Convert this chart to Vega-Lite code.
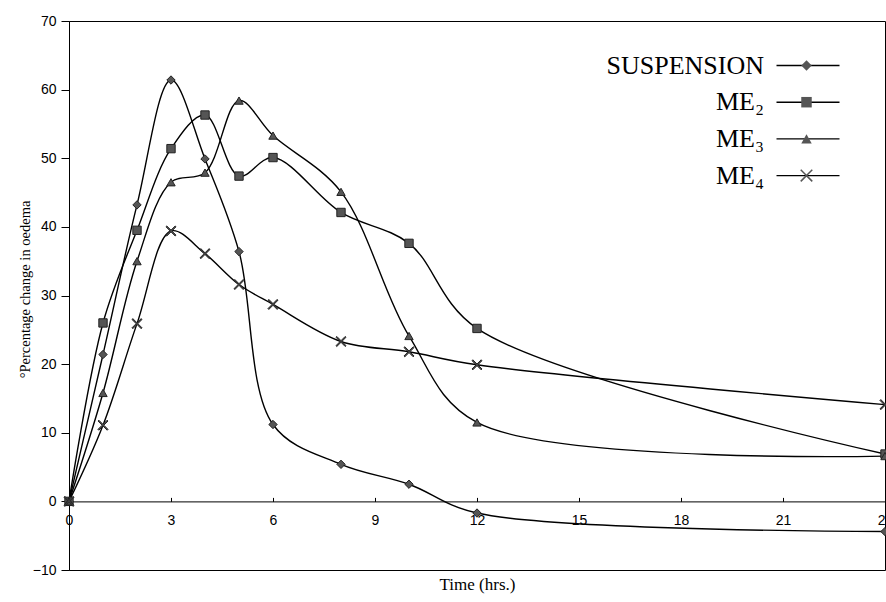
{
  "$schema": "https://vega.github.io/schema/vega-lite/v6.json",
  "width": 816,
  "height": 549,
  "autosize": "none",
  "padding": {"left": 69, "top": 21, "right": 1, "bottom": 32},
  "background": "white",
  "config": {
    "view": {"stroke": "black", "strokeWidth": 1},
    "axis": {"grid": false, "domainColor": "black", "tickColor": "black", "labelColor": "black", "titleColor": "black", "labelFont": "Liberation Sans", "labelFontSize": 14, "titleFont": "Liberation Serif", "titleFontSize": 15, "titleFontWeight": "normal"}
  },
  "data": {"values": [
    {"series": "SUSPENSION", "t": 0, "v": 0},
    {"series": "SUSPENSION", "t": 1, "v": 21.4},
    {"series": "SUSPENSION", "t": 2, "v": 43.2},
    {"series": "SUSPENSION", "t": 3, "v": 61.4},
    {"series": "SUSPENSION", "t": 4, "v": 49.9},
    {"series": "SUSPENSION", "t": 5, "v": 36.4},
    {"series": "SUSPENSION", "t": 6, "v": 11.2},
    {"series": "SUSPENSION", "t": 8, "v": 5.4},
    {"series": "SUSPENSION", "t": 10, "v": 2.5},
    {"series": "SUSPENSION", "t": 12, "v": -1.7},
    {"series": "SUSPENSION", "t": 24, "v": -4.4},
    {"series": "ME₂", "t": 0, "v": 0},
    {"series": "ME₂", "t": 1, "v": 26.0},
    {"series": "ME₂", "t": 2, "v": 39.5},
    {"series": "ME₂", "t": 3, "v": 51.4},
    {"series": "ME₂", "t": 4, "v": 56.3},
    {"series": "ME₂", "t": 5, "v": 47.4},
    {"series": "ME₂", "t": 6, "v": 50.1},
    {"series": "ME₂", "t": 8, "v": 42.1},
    {"series": "ME₂", "t": 10, "v": 37.6},
    {"series": "ME₂", "t": 12, "v": 25.2},
    {"series": "ME₂", "t": 24, "v": 6.9},
    {"series": "ME₃", "t": 0, "v": 0},
    {"series": "ME₃", "t": 1, "v": 15.8},
    {"series": "ME₃", "t": 2, "v": 35.0},
    {"series": "ME₃", "t": 3, "v": 46.5},
    {"series": "ME₃", "t": 4, "v": 47.9},
    {"series": "ME₃", "t": 5, "v": 58.4},
    {"series": "ME₃", "t": 6, "v": 53.3},
    {"series": "ME₃", "t": 8, "v": 45.1},
    {"series": "ME₃", "t": 10, "v": 24.1},
    {"series": "ME₃", "t": 12, "v": 11.5},
    {"series": "ME₃", "t": 24, "v": 6.6},
    {"series": "ME₄", "t": 0, "v": 0},
    {"series": "ME₄", "t": 1, "v": 11.1},
    {"series": "ME₄", "t": 2, "v": 25.9},
    {"series": "ME₄", "t": 3, "v": 39.4},
    {"series": "ME₄", "t": 4, "v": 36.1},
    {"series": "ME₄", "t": 5, "v": 31.6},
    {"series": "ME₄", "t": 6, "v": 28.7},
    {"series": "ME₄", "t": 8, "v": 23.3},
    {"series": "ME₄", "t": 10, "v": 21.8},
    {"series": "ME₄", "t": 12, "v": 19.9},
    {"series": "ME₄", "t": 24, "v": 14.1}
  ]},
  "encoding": {
    "x": {"field": "t", "type": "quantitative", "scale": {"domain": [0, 24], "nice": false, "zero": false},
      "axis": {"orient": "bottom", "offset": -68.6, "values": [0, 3, 6, 9, 12, 15, 18, 21, 24], "tickSize": -4, "labelPadding": 16, "title": "Time (hrs.)", "titleFontSize": 17, "titlePadding": 49, "labelFlush": false}},
    "y": {"field": "v", "type": "quantitative", "scale": {"domain": [-10, 70], "nice": false, "zero": false},
      "axis": {"values": [-10, 0, 10, 20, 30, 40, 50, 60, 70], "tickSize": 8, "labelPadding": 5, "title": "°Percentage change in oedema", "titleFontSize": 14.5, "titlePadding": 0, "titleY": 268}}
  },
  "layer": [
    {
      "mark": {"type": "line", "interpolate": "catmull-rom", "strokeWidth": 1.4},
      "encoding": {
        "color": {"field": "series", "type": "nominal", "sort": ["SUSPENSION", "ME₂", "ME₃", "ME₄"],
          "scale": {"range": ["black", "black", "black", "black"]},
          "legend": {"orient": "none", "legendX": 726, "legendY": 31.5, "title": null, "symbolType": "M-3,0L3,0", "symbolSize": 441, "symbolStrokeWidth": 1.4, "symbolStrokeColor": "black", "symbolFillColor": "transparent", "labelAlign": "right", "labelOffset": -57, "labelFont": "Liberation Serif", "labelFontSize": 26, "labelColor": "black", "rowPadding": 10.7, "padding": 0, "labelLimit": 400}}
      }
    },
    {
      "mark": {"type": "point", "fill": "#555555", "stroke": "#222222", "strokeWidth": 1, "opacity": 1, "size": 70},
      "encoding": {
        "shape": {"field": "series", "type": "nominal",
          "scale": {"domain": ["SUSPENSION", "ME₂", "ME₃", "ME₄"], "range": ["diamond", "square", "triangle-up", "M-1.2,-1L-1,-1.2L0,-0.2L1,-1.2L1.2,-1L0.2,0L1.2,1L1,1.2L0,0.2L-1,1.2L-1.2,1L-0.2,0Z"]},
          "legend": {"orient": "none", "legendX": 724.5, "legendY": 31.5, "title": null, "symbolSize": 110, "symbolFillColor": "#555555", "symbolStrokeColor": "#222222", "symbolStrokeWidth": 1, "labelExpr": "' '", "labelFont": "Liberation Serif", "labelFontSize": 26, "rowPadding": 10.7, "padding": 0}}
      }
    }
  ]
}
